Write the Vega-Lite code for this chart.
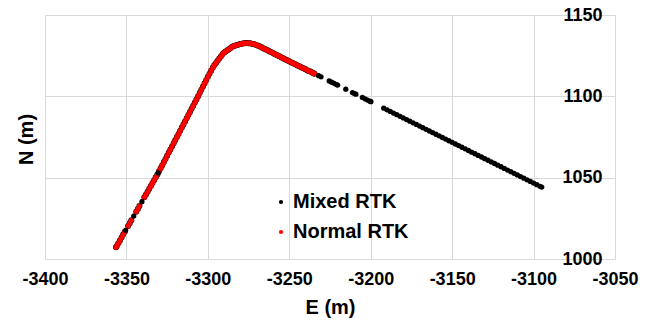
{
"$schema": "https://vega.github.io/schema/vega-lite/v6.json",
"width": 570, "height": 244,
"autosize": {"type": "none"},
"padding": {"left": 45, "top": 15, "right": 34, "bottom": 61},
"background": "white",
"config": {"view": {"stroke": null}, "font": "Liberation Sans"},
"data": {"values": [
{"E":-3356.4,"N":1007.2,"s":"Normal RTK"},{"E":-3356,"N":1007.9,"s":"Normal RTK"},{"E":-3355,"N":1009.7,"s":"Normal RTK"},{"E":-3354,"N":1011.4,"s":"Normal RTK"},{"E":-3353,"N":1013.2,"s":"Normal RTK"},{"E":-3352,"N":1015.0,"s":"Normal RTK"},{"E":-3351,"N":1016.7,"s":"Normal RTK"},{"E":-3349,"N":1020.3,"s":"Normal RTK"},{"E":-3348,"N":1022.0,"s":"Normal RTK"},{"E":-3347,"N":1023.8,"s":"Normal RTK"},{"E":-3344,"N":1029.1,"s":"Normal RTK"},{"E":-3343,"N":1030.8,"s":"Normal RTK"},{"E":-3342,"N":1032.6,"s":"Normal RTK"},{"E":-3339,"N":1037.9,"s":"Normal RTK"},{"E":-3338,"N":1039.6,"s":"Normal RTK"},{"E":-3337,"N":1041.4,"s":"Normal RTK"},{"E":-3336,"N":1043.2,"s":"Normal RTK"},{"E":-3335,"N":1044.9,"s":"Normal RTK"},{"E":-3334,"N":1046.7,"s":"Normal RTK"},{"E":-3333,"N":1048.4,"s":"Normal RTK"},{"E":-3332,"N":1050.2,"s":"Normal RTK"},{"E":-3331,"N":1052.0,"s":"Normal RTK"},{"E":-3330,"N":1053.9,"s":"Normal RTK"},{"E":-3329,"N":1055.8,"s":"Normal RTK"},{"E":-3328,"N":1057.7,"s":"Normal RTK"},{"E":-3327,"N":1059.6,"s":"Normal RTK"},{"E":-3326,"N":1061.5,"s":"Normal RTK"},{"E":-3325,"N":1063.5,"s":"Normal RTK"},{"E":-3324,"N":1065.4,"s":"Normal RTK"},{"E":-3323,"N":1067.3,"s":"Normal RTK"},{"E":-3322,"N":1069.2,"s":"Normal RTK"},{"E":-3321,"N":1071.1,"s":"Normal RTK"},{"E":-3320,"N":1073.1,"s":"Normal RTK"},{"E":-3319,"N":1075.0,"s":"Normal RTK"},{"E":-3318,"N":1076.9,"s":"Normal RTK"},{"E":-3317,"N":1078.8,"s":"Normal RTK"},{"E":-3316,"N":1080.8,"s":"Normal RTK"},{"E":-3315,"N":1082.7,"s":"Normal RTK"},{"E":-3314,"N":1084.6,"s":"Normal RTK"},{"E":-3313,"N":1086.5,"s":"Normal RTK"},{"E":-3312,"N":1088.5,"s":"Normal RTK"},{"E":-3311,"N":1090.4,"s":"Normal RTK"},{"E":-3310,"N":1092.3,"s":"Normal RTK"},{"E":-3309,"N":1094.2,"s":"Normal RTK"},{"E":-3308,"N":1096.2,"s":"Normal RTK"},{"E":-3307,"N":1098.1,"s":"Normal RTK"},{"E":-3306,"N":1100.0,"s":"Normal RTK"},{"E":-3305,"N":1102.0,"s":"Normal RTK"},{"E":-3304,"N":1104.0,"s":"Normal RTK"},{"E":-3303,"N":1106.0,"s":"Normal RTK"},{"E":-3302,"N":1108.0,"s":"Normal RTK"},{"E":-3301,"N":1110.0,"s":"Normal RTK"},{"E":-3300,"N":1112.0,"s":"Normal RTK"},{"E":-3299,"N":1113.9,"s":"Normal RTK"},{"E":-3298,"N":1115.7,"s":"Normal RTK"},{"E":-3297,"N":1117.6,"s":"Normal RTK"},{"E":-3296,"N":1119.2,"s":"Normal RTK"},{"E":-3295,"N":1120.5,"s":"Normal RTK"},{"E":-3294,"N":1121.8,"s":"Normal RTK"},{"E":-3293,"N":1123.2,"s":"Normal RTK"},{"E":-3292,"N":1124.5,"s":"Normal RTK"},{"E":-3291,"N":1125.8,"s":"Normal RTK"},{"E":-3290,"N":1126.9,"s":"Normal RTK"},{"E":-3289,"N":1127.5,"s":"Normal RTK"},{"E":-3288,"N":1128.3,"s":"Normal RTK"},{"E":-3287,"N":1129.0,"s":"Normal RTK"},{"E":-3286,"N":1129.7,"s":"Normal RTK"},{"E":-3285,"N":1130.5,"s":"Normal RTK"},{"E":-3284,"N":1131.0,"s":"Normal RTK"},{"E":-3283,"N":1131.3,"s":"Normal RTK"},{"E":-3282,"N":1131.6,"s":"Normal RTK"},{"E":-3281,"N":1131.9,"s":"Normal RTK"},{"E":-3280,"N":1132.2,"s":"Normal RTK"},{"E":-3279,"N":1132.4,"s":"Normal RTK"},{"E":-3278,"N":1132.6,"s":"Normal RTK"},{"E":-3277,"N":1132.7,"s":"Normal RTK"},{"E":-3276,"N":1132.8,"s":"Normal RTK"},{"E":-3275,"N":1132.7,"s":"Normal RTK"},{"E":-3274,"N":1132.6,"s":"Normal RTK"},{"E":-3273,"N":1132.4,"s":"Normal RTK"},{"E":-3272,"N":1132.2,"s":"Normal RTK"},{"E":-3271,"N":1131.8,"s":"Normal RTK"},{"E":-3270,"N":1131.4,"s":"Normal RTK"},{"E":-3269,"N":1131.1,"s":"Normal RTK"},{"E":-3268,"N":1130.7,"s":"Normal RTK"},{"E":-3267,"N":1130.2,"s":"Normal RTK"},{"E":-3266,"N":1129.6,"s":"Normal RTK"},{"E":-3265,"N":1129.1,"s":"Normal RTK"},{"E":-3264,"N":1128.6,"s":"Normal RTK"},{"E":-3263,"N":1128.1,"s":"Normal RTK"},{"E":-3262,"N":1127.6,"s":"Normal RTK"},{"E":-3261,"N":1127.1,"s":"Normal RTK"},{"E":-3260,"N":1126.6,"s":"Normal RTK"},{"E":-3259,"N":1126.1,"s":"Normal RTK"},{"E":-3258,"N":1125.6,"s":"Normal RTK"},{"E":-3257,"N":1125.1,"s":"Normal RTK"},{"E":-3256,"N":1124.6,"s":"Normal RTK"},{"E":-3255,"N":1124.0,"s":"Normal RTK"},{"E":-3254,"N":1123.5,"s":"Normal RTK"},{"E":-3253,"N":1123.0,"s":"Normal RTK"},{"E":-3252,"N":1122.5,"s":"Normal RTK"},{"E":-3251,"N":1122.0,"s":"Normal RTK"},{"E":-3250,"N":1121.5,"s":"Normal RTK"},{"E":-3249,"N":1121.0,"s":"Normal RTK"},{"E":-3248,"N":1120.5,"s":"Normal RTK"},{"E":-3247,"N":1120.0,"s":"Normal RTK"},{"E":-3246,"N":1119.5,"s":"Normal RTK"},{"E":-3245,"N":1119.0,"s":"Normal RTK"},{"E":-3244,"N":1118.6,"s":"Normal RTK"},{"E":-3243,"N":1118.1,"s":"Normal RTK"},{"E":-3242,"N":1117.6,"s":"Normal RTK"},{"E":-3241,"N":1117.1,"s":"Normal RTK"},{"E":-3240,"N":1116.6,"s":"Normal RTK"},{"E":-3239,"N":1116.1,"s":"Normal RTK"},{"E":-3238,"N":1115.6,"s":"Normal RTK"},{"E":-3237,"N":1115.2,"s":"Normal RTK"},{"E":-3236,"N":1114.7,"s":"Normal RTK"},{"E":-3235,"N":1114.2,"s":"Normal RTK"},{"E":-3234.5,"N":1113.9,"s":"Normal RTK"},
{"E":-3350.5,"N":1017.6,"s":"Mixed RTK"},{"E":-3345.5,"N":1026.4,"s":"Mixed RTK"},{"E":-3340.5,"N":1035.2,"s":"Mixed RTK"},{"E":-3330.5,"N":1052.9,"s":"Mixed RTK"},
{"E":-3232,"N":1112.7,"s":"Mixed RTK"},{"E":-3230.5,"N":1112.0,"s":"Mixed RTK"},{"E":-3225.5,"N":1109.5,"s":"Mixed RTK"},{"E":-3224,"N":1108.7,"s":"Mixed RTK"},{"E":-3222.5,"N":1108.0,"s":"Mixed RTK"},{"E":-3221,"N":1107.2,"s":"Mixed RTK"},{"E":-3220.3,"N":1106.9,"s":"Mixed RTK"},{"E":-3215.3,"N":1104.4,"s":"Mixed RTK"},{"E":-3211.2,"N":1102.3,"s":"Mixed RTK"},{"E":-3210,"N":1101.7,"s":"Mixed RTK"},{"E":-3209.1,"N":1101.3,"s":"Mixed RTK"},{"E":-3205.1,"N":1099.3,"s":"Mixed RTK"},{"E":-3203.5,"N":1098.5,"s":"Mixed RTK"},{"E":-3202,"N":1097.7,"s":"Mixed RTK"},{"E":-3200.5,"N":1097.0,"s":"Mixed RTK"},{"E":-3199.9,"N":1096.7,"s":"Mixed RTK"},
{"E":-3192,"N":1092.7,"s":"Mixed RTK"},{"E":-3190,"N":1091.7,"s":"Mixed RTK"},{"E":-3188,"N":1090.7,"s":"Mixed RTK"},{"E":-3186,"N":1089.7,"s":"Mixed RTK"},{"E":-3184,"N":1088.7,"s":"Mixed RTK"},{"E":-3182,"N":1087.7,"s":"Mixed RTK"},{"E":-3180,"N":1086.7,"s":"Mixed RTK"},{"E":-3178,"N":1085.7,"s":"Mixed RTK"},{"E":-3176,"N":1084.7,"s":"Mixed RTK"},{"E":-3174,"N":1083.7,"s":"Mixed RTK"},{"E":-3172,"N":1082.7,"s":"Mixed RTK"},{"E":-3170,"N":1081.7,"s":"Mixed RTK"},{"E":-3168,"N":1080.7,"s":"Mixed RTK"},{"E":-3166,"N":1079.7,"s":"Mixed RTK"},{"E":-3164,"N":1078.7,"s":"Mixed RTK"},{"E":-3162,"N":1077.7,"s":"Mixed RTK"},{"E":-3160,"N":1076.7,"s":"Mixed RTK"},{"E":-3158,"N":1075.7,"s":"Mixed RTK"},{"E":-3156,"N":1074.7,"s":"Mixed RTK"},{"E":-3154,"N":1073.7,"s":"Mixed RTK"},{"E":-3152,"N":1072.7,"s":"Mixed RTK"},{"E":-3150,"N":1071.7,"s":"Mixed RTK"},{"E":-3148,"N":1070.7,"s":"Mixed RTK"},{"E":-3146,"N":1069.7,"s":"Mixed RTK"},{"E":-3144,"N":1068.7,"s":"Mixed RTK"},{"E":-3142,"N":1067.7,"s":"Mixed RTK"},{"E":-3140,"N":1066.7,"s":"Mixed RTK"},{"E":-3138,"N":1065.7,"s":"Mixed RTK"},{"E":-3136,"N":1064.7,"s":"Mixed RTK"},{"E":-3134,"N":1063.7,"s":"Mixed RTK"},{"E":-3132,"N":1062.7,"s":"Mixed RTK"},{"E":-3130,"N":1061.7,"s":"Mixed RTK"},{"E":-3128,"N":1060.7,"s":"Mixed RTK"},{"E":-3126,"N":1059.7,"s":"Mixed RTK"},{"E":-3124,"N":1058.7,"s":"Mixed RTK"},{"E":-3122,"N":1057.7,"s":"Mixed RTK"},{"E":-3120,"N":1056.7,"s":"Mixed RTK"},{"E":-3118,"N":1055.7,"s":"Mixed RTK"},{"E":-3116,"N":1054.7,"s":"Mixed RTK"},{"E":-3114,"N":1053.7,"s":"Mixed RTK"},{"E":-3112,"N":1052.7,"s":"Mixed RTK"},{"E":-3110,"N":1051.7,"s":"Mixed RTK"},{"E":-3108,"N":1050.7,"s":"Mixed RTK"},{"E":-3106,"N":1049.7,"s":"Mixed RTK"},{"E":-3104,"N":1048.7,"s":"Mixed RTK"},{"E":-3102,"N":1047.7,"s":"Mixed RTK"},{"E":-3100,"N":1046.7,"s":"Mixed RTK"},{"E":-3098,"N":1045.7,"s":"Mixed RTK"},{"E":-3096,"N":1044.7,"s":"Mixed RTK"},{"E":-3095,"N":1044.2,"s":"Mixed RTK"}
]},
"encoding": {
  "x": {"field": "E", "type": "quantitative",
    "scale": {"domain": [-3400, -3050], "nice": false, "zero": false},
    "axis": {"title": "E (m)", "values": [-3400, -3350, -3300, -3250, -3200, -3150, -3100, -3050],
      "labelExpr": "'' + datum.value",
      "grid": true, "gridColor": "#d9d9d9", "gridWidth": 1, "domain": true, "domainColor": "#d9d9d9",
      "ticks": false, "labelFont": "Liberation Sans", "labelFontSize": 18, "labelFontWeight": "bold",
      "labelColor": "black", "labelPadding": 11, "labelFlush": false, "labelOverlap": false,
      "titleFont": "Liberation Sans", "titleFontSize": 20, "titleFontWeight": "bold", "titleColor": "black",
      "titleY": 38, "titleBaseline": "top"}},
  "y": {"field": "N", "type": "quantitative",
    "scale": {"domain": [1000, 1150], "nice": false, "zero": false},
    "axis": {"orient": "right", "title": "N (m)", "values": [1000, 1050, 1100, 1150],
      "labelExpr": "'' + datum.value",
      "grid": true, "gridColor": "#d9d9d9", "gridWidth": 1, "domain": true, "domainColor": "#d9d9d9",
      "ticks": false, "labelFont": "Liberation Sans", "labelFontSize": 18, "labelFontWeight": "bold",
      "labelColor": "black", "labelAlign": "right", "labelBaseline": "middle", "labelPadding": -13,
      "labelOverlap": false, "labelFlush": false, "labelBound": false,
      "titleFont": "Liberation Sans", "titleFontSize": 20, "titleFontWeight": "bold", "titleColor": "black",
      "titleAngle": 270, "titleX": -589, "titleY": 124, "titleAlign": "center", "titleBaseline": "middle"}}
},
"layer": [
  {"transform": [{"filter": "datum.s === 'Normal RTK'"}],
   "mark": {"type": "point", "filled": true, "size": 36, "opacity": 1, "color": "#2a0000"}},
  {"transform": [{"filter": "datum.s === 'Normal RTK'"}],
   "mark": {"type": "point", "filled": true, "size": 25, "opacity": 1},
   "encoding": {"color": {"field": "s", "type": "nominal",
     "scale": {"domain": ["Mixed RTK", "Normal RTK"], "range": ["#000000", "#ff0000"]},
     "legend": {"title": null, "orient": "none", "legendX": 226, "legendY": 177, "padding": 0,
       "labelFont": "Liberation Sans", "labelFontSize": 20, "labelFontWeight": "bold", "labelColor": "black",
       "symbolType": "circle", "symbolSize": 18, "symbolStrokeWidth": 0, "symbolOpacity": 1,
       "labelOffset": 2, "rowPadding": 10}}}},
  {"transform": [{"filter": "datum.s === 'Mixed RTK'"}],
   "mark": {"type": "point", "filled": true, "size": 28, "opacity": 1},
   "encoding": {"color": {"field": "s", "type": "nominal",
     "scale": {"domain": ["Mixed RTK", "Normal RTK"], "range": ["#000000", "#ff0000"]},
     "legend": {"title": null, "orient": "none", "legendX": 226, "legendY": 177, "padding": 0,
       "labelFont": "Liberation Sans", "labelFontSize": 20, "labelFontWeight": "bold", "labelColor": "black",
       "symbolType": "circle", "symbolSize": 18, "symbolStrokeWidth": 0, "symbolOpacity": 1,
       "labelOffset": 2, "rowPadding": 10}}}}
]
}
